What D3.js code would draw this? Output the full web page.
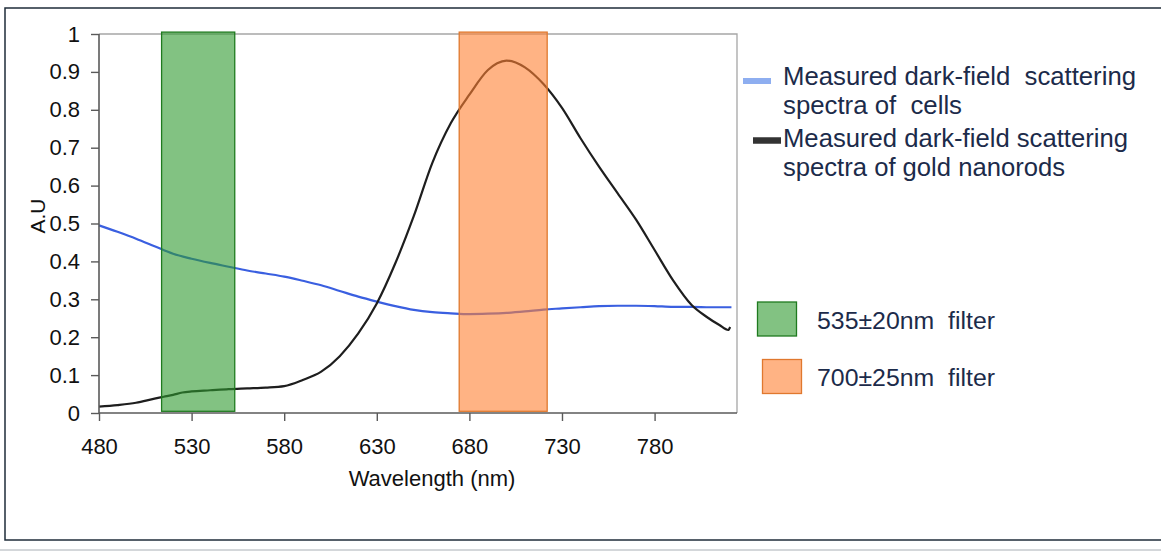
<!DOCTYPE html>
<html>
<head>
<meta charset="utf-8">
<script src="https://cdn.jsdelivr.net/npm/d3@7/dist/d3.min.js"></script>
<style>
  html, body { margin: 0; padding: 0; background: #fff; }
  svg { display: block; font-family: "Liberation Sans", Arial, sans-serif; }
</style>
</head>
<body>
<svg id="chart" width="1161" height="551"></svg>
<script>
// ---------- data ----------
const cellsWl = [480, 490, 500, 510, 520, 530, 540, 550, 560, 570, 580, 590, 600, 610, 620, 630, 640, 650, 660, 670, 680, 690, 700, 710, 720, 730, 740, 750, 760, 770, 780, 790, 800, 810, 821.5];
const cellsAU = [0.495, 0.478, 0.46, 0.44, 0.42, 0.407, 0.396, 0.386, 0.376, 0.368, 0.36, 0.349, 0.337, 0.322, 0.307, 0.294, 0.282, 0.272, 0.266, 0.263, 0.261, 0.262, 0.264, 0.268, 0.273, 0.276, 0.279, 0.282, 0.283, 0.283, 0.282, 0.28, 0.28, 0.279, 0.279];

const rodsWl = [480, 490, 500, 510, 515, 520, 525, 530, 540, 550, 560, 570, 580, 590, 600, 610, 620, 630, 640, 650, 660, 670, 680, 690, 695, 700, 705, 710, 720, 730, 740, 750, 760, 770, 780, 790, 800, 808, 815, 819.8, 820.8];
const rodsAU = [0.017, 0.021, 0.027, 0.038, 0.043, 0.048, 0.054, 0.057, 0.06, 0.063, 0.065, 0.067, 0.071, 0.087, 0.109, 0.15, 0.21, 0.289, 0.395, 0.52, 0.66, 0.765, 0.84, 0.905, 0.923, 0.93, 0.925, 0.912, 0.868, 0.805, 0.725, 0.65, 0.58, 0.51, 0.43, 0.35, 0.285, 0.254, 0.232, 0.219, 0.227];

const filterNames = ["535\u00B120nm  filter", "700\u00B125nm  filter"];
const filterLow = [513.8, 674.5];
const filterHigh = [553.3, 722];
const filterFill = ["#2f992f", "#ff8032"];
const filterStroke = ["#1f7a1f", "#e0782e"];

const seriesNames = [["Measured dark-field  scattering", "spectra of  cells"],
                     ["Measured dark-field scattering", "spectra of gold nanorods"]];

const xTicks = [480, 530, 580, 630, 680, 730, 780];
const yTicks = [0, 0.1, 0.2, 0.3, 0.4, 0.5, 0.6, 0.7, 0.8, 0.9, 1];

// ---------- layout ----------
const svg = d3.select("#chart");
const L = 99, R = 737, T = 34, B = 413;
const x = d3.scaleLinear().domain([480, 824.5]).range([L, R]);
const y = d3.scaleLinear().domain([0, 1]).range([B, T]);
const textCol = "#1c2b4a";

// outer frame
svg.append("rect").attr("x", 5).attr("y", 8).attr("width", 1170).attr("height", 532)
  .attr("fill", "none").attr("stroke", "#1f2d3a").attr("stroke-width", 1.5);
svg.append("line").attr("x1", 0).attr("x2", 1161).attr("y1", 550).attr("y2", 550)
  .attr("stroke", "#d4d7da").attr("stroke-width", 2);

// plot border (top/right)
svg.append("path")
  .attr("d", `M${L},${T}H${R}V${B}`)
  .attr("fill", "none").attr("stroke", "#a6a6a6").attr("stroke-width", 1.3);

// curves
const line = d3.line().x(d => x(d[0])).y(d => y(d[1])).curve(d3.curveMonotoneX);
svg.append("path").datum(d3.zip(cellsWl, cellsAU)).attr("d", line)
  .attr("fill", "none").attr("stroke", "#3a5fe0").attr("stroke-width", 2.2);
svg.append("path").datum(d3.zip(rodsWl, rodsAU)).attr("d", line)
  .attr("fill", "none").attr("stroke", "#1e1e1e").attr("stroke-width", 2.2);

// filter bands
svg.selectAll("rect.band").data(filterLow).join("rect").attr("class", "band")
  .attr("x", (d, i) => x(d))
  .attr("width", (d, i) => x(filterHigh[i]) - x(d))
  .attr("y", y(1.005)).attr("height", y(0.0045) - y(1.005))
  .attr("fill", (d, i) => filterFill[i]).attr("fill-opacity", 0.6)
  .attr("stroke", (d, i) => filterStroke[i]).attr("stroke-width", 1.3);

// axes
const yAxis = d3.axisLeft(y).tickValues(yTicks).tickSize(8).tickPadding(11)
  .tickFormat(d => d === 0 ? "0" : d === 1 ? "1" : d.toFixed(1));
const gy = svg.append("g").attr("transform", `translate(${L},0)`).call(yAxis);
const xAxis = d3.axisBottom(x).tickValues(xTicks).tickSize(8).tickPadding(17).tickFormat(d3.format("d"));
const gx = svg.append("g").attr("transform", `translate(0,${B})`).call(xAxis);
[gx, gy].forEach(g => {
  g.attr("font-size", 22).attr("font-family", "'Liberation Sans', Arial, sans-serif");
  g.select(".domain").attr("stroke", "#5a5a5a").attr("stroke-width", 1.6);
  g.selectAll(".tick line").attr("stroke", "#5a5a5a").attr("stroke-width", 1.4);
  g.selectAll(".tick text").attr("fill", "#111");
});
gx.select(".domain").attr("d", `M${L},0H${R}`);
gy.select(".domain").attr("d", `M0,${B}V${T}`);

// axis titles
svg.append("text").attr("x", 432).attr("y", 486).attr("text-anchor", "middle")
  .attr("fill", "#111").style("font-size", "22px").text("Wavelength (nm)");
svg.append("text").attr("transform", "translate(45,216) rotate(-90)").attr("text-anchor", "middle")
  .attr("fill", "#111").style("font-size", "21px").text("A.U");

// series legend
const legLines = [
  {x1: 743, x2: 771, y: 81, col: "#8eaef0", w: 6},
  {x1: 753, x2: 781, y: 140.5, col: "#333333", w: 6.5}
];
svg.selectAll("line.leg").data(legLines).join("line").attr("class", "leg")
  .attr("x1", d => d.x1).attr("x2", d => d.x2).attr("y1", d => d.y).attr("y2", d => d.y)
  .attr("stroke", d => d.col).attr("stroke-width", d => d.w);
const legBase = [[85, 114], [147, 176]];
const legLen = [[353, 179], [345, 282]];
seriesNames.forEach((lines, i) => {
  lines.forEach((t, j) => {
    svg.append("text").attr("x", 783).attr("y", legBase[i][j])
      .attr("fill", textCol).style("font-size", "25.5px").style("white-space", "pre")
      .attr("xml:space", "preserve")
      .attr("textLength", legLen[i][j]).attr("lengthAdjust", "spacingAndGlyphs").text(t);
  });
});

// filter legend
const boxX = [757.5, 762.5], boxY = [302, 359.5];
filterNames.forEach((t, i) => {
  svg.append("rect").attr("x", boxX[i]).attr("y", boxY[i]).attr("width", 39).attr("height", 34)
    .attr("fill", filterFill[i]).attr("fill-opacity", 0.6)
    .attr("stroke", filterStroke[i]).attr("stroke-width", 1.3);
  svg.append("text").attr("x", 817).attr("y", [328.5, 386][i])
    .attr("fill", textCol).style("font-size", "23px").style("white-space", "pre")
    .attr("xml:space", "preserve")
    .attr("textLength", 178).attr("lengthAdjust", "spacingAndGlyphs").text(t);
});
</script>
</body>
</html>
